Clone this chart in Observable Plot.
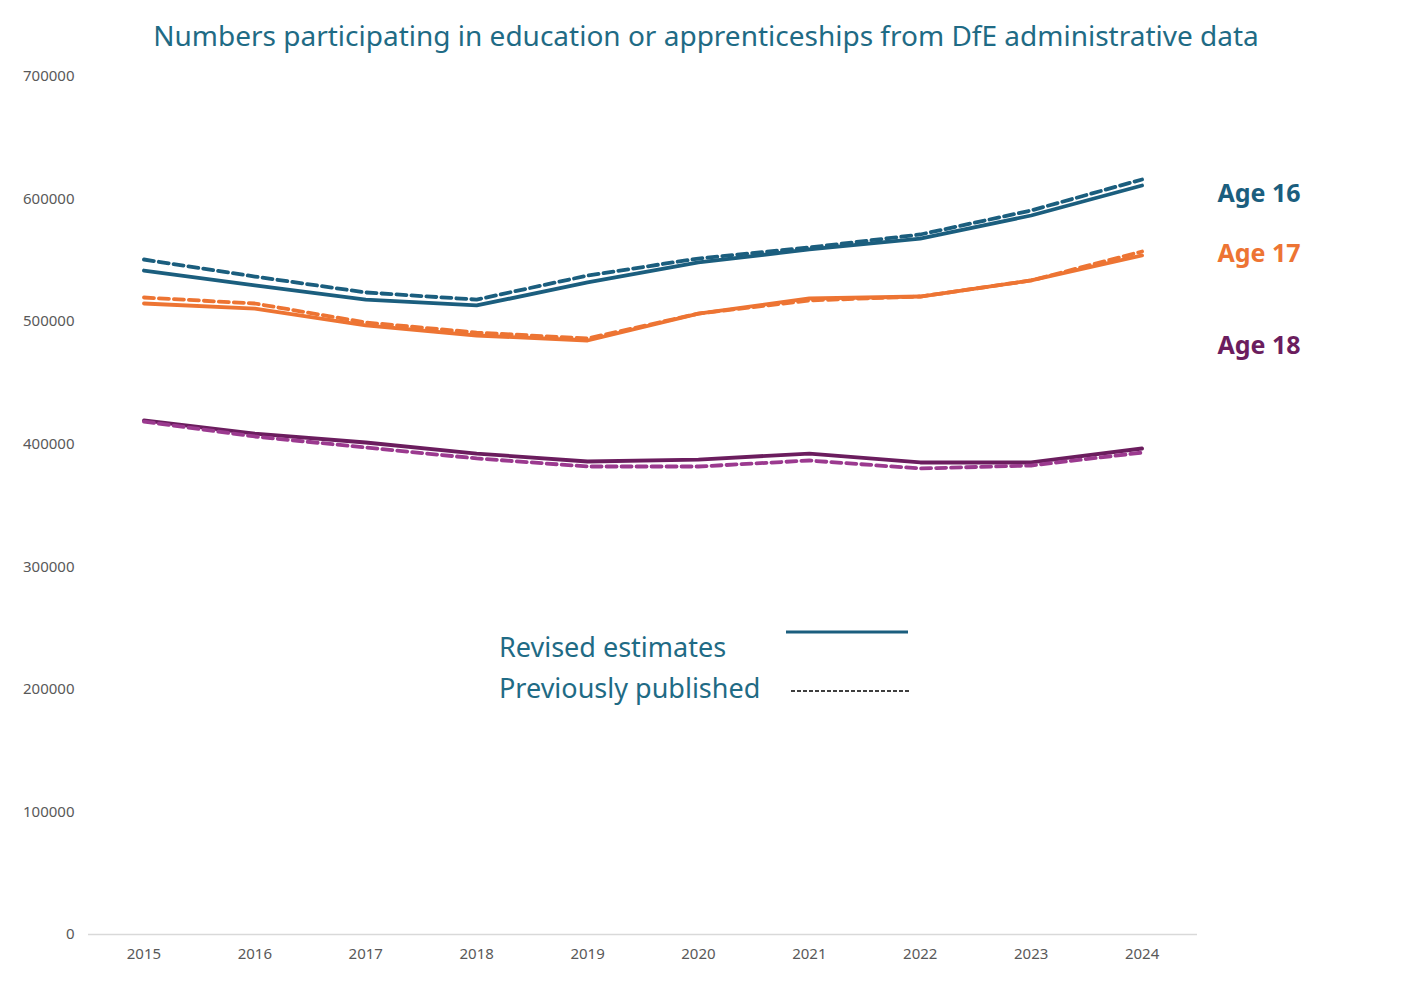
<!DOCTYPE html>
<html><head><meta charset="utf-8">
<script src="https://cdn.jsdelivr.net/npm/d3@7"></script>
<script src="https://cdn.jsdelivr.net/npm/@observablehq/plot@0.6"></script>
<style>
body{margin:0;background:#fff;font-family:"Noto Sans",sans-serif;}
#wrap{position:relative;width:1412px;height:983px;}
#title{position:absolute;top:16px;left:0;width:1412px;text-align:center;font-size:28px;color:#1f6b85;}
#legend{position:absolute;left:499px;top:626px;font-size:27px;color:#1f6b85;line-height:41px;}
#chart svg text{font-size:15px;}
#chart svg g[aria-label="text"] text{font-size:25px;}
</style></head><body>
<div id="wrap"><div id="chart"></div>
<div id="title">Numbers participating in education or apprenticeships from DfE administrative data</div>
<div id="legend">
<div>Revised estimates <svg width="130" height="20" style="position:absolute;left:285px;top:2px"><line x1="2" x2="124" y1="4" y2="4" stroke="#1b5e7e" stroke-width="3"/></svg></div>
<div>Previously published <svg width="130" height="20" style="position:absolute;left:290px;top:57px"><line x1="2" x2="120" y1="8" y2="8" stroke="#000" stroke-width="1.5" stroke-dasharray="4,2"/></svg></div>
</div></div>
<script>
const years = [2015,2016,2017,2018,2019,2020,2021,2022,2023,2024];
const age16Revised = [541700,529500,518000,513200,532000,548300,558900,567800,586600,611100];
const age16Previous = [550700,536800,523800,518000,537600,551500,560500,571100,590700,616000];
const age17Revised = [514800,510700,496900,488700,484600,506600,518900,520500,533600,554000];
const age17Previous = [519700,514800,499300,491100,486200,506600,517300,520500,533600,557200];
const age18Revised = [419400,408700,401400,392400,385900,387500,392400,385100,385100,396500];
const age18Previous = [418500,406300,397300,388400,381800,381800,386700,380200,382600,393200];
const yTicks = [0,100000,200000,300000,400000,500000,600000,700000];
const seriesLabels = ["Age 16","Age 17","Age 18"];
const labelValues = [604000,555000,480000];

const series = [
  {name:"Age 16", kind:"prev", vals:age16Previous, color:"#1b5e7e"},
  {name:"Age 16", kind:"rev", vals:age16Revised, color:"#1b5e7e"},
  {name:"Age 17", kind:"prev", vals:age17Previous, color:"#ed7433"},
  {name:"Age 17", kind:"rev", vals:age17Revised, color:"#ed7433"},
  {name:"Age 18", kind:"prev", vals:age18Previous, color:"#9b3a8f"},
  {name:"Age 18", kind:"rev", vals:age18Revised, color:"#6b1d5e"},
];
const rows = series.flatMap(s => s.vals.map((v,i)=>({year:years[i], value:v, key:s.name+s.kind, kind:s.kind, color:s.color})));
const labelColors = {"Age 16":"#1b5e7e","Age 17":"#ed7433","Age 18":"#6b1d5e"};
const labels = seriesLabels.map((n,i)=>({name:n, value:labelValues[i]}));

const chart = Plot.plot({
  width:1412, height:983, marginLeft:88, marginRight:215, marginTop:76, marginBottom:49,
  style:{fontFamily:"Noto Sans, sans-serif", fontSize:"15px", color:"#595959", overflow:"visible"},
  x:{type:"point", domain:years, padding:0.5, round:false, label:null, tickSize:0, tickPadding:14, tickFormat:d=>String(d)},
  y:{domain:[0,700000], ticks:yTicks, tickFormat:d=>String(d), label:null, tickSize:0, tickPadding:14},
  marks:[
    Plot.ruleY([0],{stroke:"#d9d9d9", strokeWidth:1.3}),
    Plot.line(rows.filter(d=>d.kind==="rev"),{x:"year",y:"value",z:"key",stroke:"color",strokeWidth:3.8}),
    Plot.line(rows.filter(d=>d.kind==="prev"),{x:"year",y:"value",z:"key",stroke:"color",strokeWidth:3.8,strokeDasharray:"10,5"}),
    Plot.text(labels,{x:()=>2024, y:"value", text:"name", fill:d=>labelColors[d.name], dx:117, fontSize:25, fontWeight:"bold", textAnchor:"middle"})
  ]
});
document.getElementById("chart").appendChild(chart);
</script></body></html>
